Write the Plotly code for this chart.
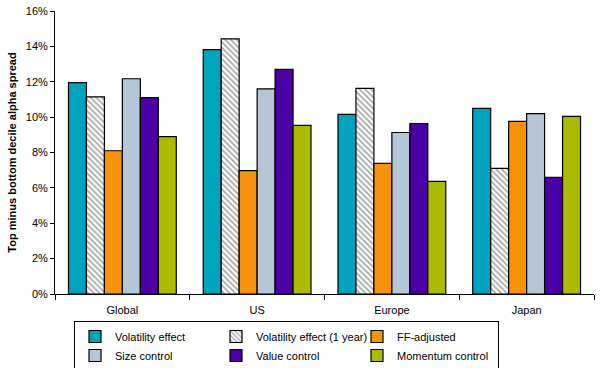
import plotly.graph_objects as go

categories = ["Global", "US", "Europe", "Japan"]
series_names = ["Volatility effect", "Volatility effect (1 year)", "FF-adjusted",
                "Size control", "Value control", "Momentum control"]
volatility_effect = [0.1195, 0.1382, 0.1015, 0.1049]
volatility_effect_1y = [0.1115, 0.1442, 0.1162, 0.0710]
ff_adjusted = [0.0810, 0.0697, 0.0738, 0.0976]
size_control = [0.1217, 0.1160, 0.0913, 0.1020]
value_control = [0.1110, 0.1270, 0.0964, 0.0659]
momentum_control = [0.0890, 0.0953, 0.0637, 0.1004]
y_ticks = [0, 0.02, 0.04, 0.06, 0.08, 0.10, 0.12, 0.14, 0.16]

colors = ["#00A2BE", "#FFFFFF", "#F7930B", "#B5C6D6", "#4A00A4", "#ADBB00"]
all_values = [volatility_effect, volatility_effect_1y, ff_adjusted,
              size_control, value_control, momentum_control]

fig = go.Figure()
for i, (name, vals) in enumerate(zip(series_names, all_values)):
    marker = dict(color=colors[i], line=dict(color="black", width=1.2))
    if i == 1:
        marker["pattern"] = dict(shape="\\", fgcolor="#A8A8A8", bgcolor="white",
                                 size=4, solidity=0.45, fillmode="replace")
    fig.add_trace(go.Bar(name=name, x=categories, y=vals, marker=marker))

fig.update_layout(
    width=600, height=368,
    barmode="group", bargap=0.2, bargroupgap=0,
    plot_bgcolor="white", paper_bgcolor="white",
    margin=dict(l=55, r=6, t=11, b=74, autoexpand=False),
    font=dict(family="Liberation Sans, Arial, sans-serif", size=11, color="black"),
    showlegend=True,
    legend=dict(
        orientation="h", xref="container", yref="container",
        x=74 / 600, xanchor="left", y=(368 - 321) / 368, yanchor="top",
        entrywidth=96, entrywidthmode="pixels",
        bordercolor="black", borderwidth=1, font=dict(size=11),
        itemwidth=30, tracegroupgap=0,
    ),
)
fig.update_yaxes(
    range=[0, 0.16], tickvals=y_ticks, tickformat=".0%",
    showline=True, linecolor="black", linewidth=1,
    ticks="outside", ticklen=4, tickcolor="black",
    showgrid=False, zeroline=False, automargin=False,
    title=dict(text="<b>Top minus bottom decile alpha spread</b>", font=dict(size=11), standoff=6),
)
fig.update_xaxes(
    showline=True, linecolor="black", linewidth=1,
    ticks="outside", tickson="boundaries", ticklen=5, tickcolor="black",
    showgrid=False, automargin=False, ticklabelstandoff=6,
)

fig.write_html("out.html", config={"displayModeBar": False},
               post_script="document.body.style.margin='0';document.body.style.padding='0';")
